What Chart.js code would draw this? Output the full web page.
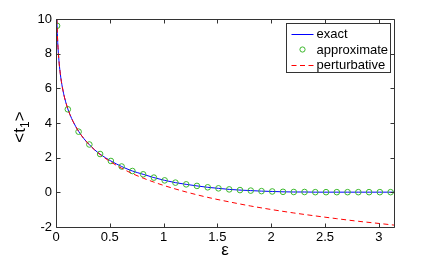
<!DOCTYPE html>
<html><head><meta charset="utf-8">
<script src="https://cdn.jsdelivr.net/npm/chart.js@4/dist/chart.umd.min.js"></script>
<style>html,body{margin:0;padding:0;background:#fff;} #wrap{width:436px;height:262px;position:relative;}</style>
</head><body><div id="wrap"><canvas id="c" width="436" height="262"></canvas></div>
<script>
// ---- data ----
const xTicks = [0, 0.5, 1, 1.5, 2, 2.5, 3];
const yTicks = [-2, 0, 2, 4, 6, 8, 10];
const seriesNames = ['exact', 'approximate', 'perturbative'];
const xLabel = 'ε';
const yLabelParts = ['<t', '1', '>'];

const epsMarkers = [0.01,0.11,0.21,0.31,0.41,0.51,0.61,0.71,0.81,0.91,1.01,1.11,1.21,1.31,1.41,1.51,1.61,1.71,1.81,1.91,2.01,2.11,2.21,2.31,2.41,2.51,2.61,2.71,2.81,2.91,3.01,3.11];
const approxValues = [9.61,4.79,3.50,2.76,2.21,1.81,1.49,1.23,1.04,0.85,0.69,0.56,0.46,0.37,0.29,0.23,0.17,0.13,0.10,0.07,0.05,0.03,0.02,0.02,0.01,0.01,0.01,0.01,0.01,0.01,0.01,0.01];

const epsLine = [0.0082,0.01,0.015,0.02,0.03,0.04,0.05,0.06,0.07,0.08,0.09,0.11,0.13,0.16,0.21,0.26,0.31,0.36,0.41,0.51,0.61,0.71,0.81,0.91,1.01,1.11,1.21,1.31,1.41,1.51,1.61,1.71,1.81,1.91,2.01,2.11,2.21,2.31,2.41,2.51,2.61,2.71,2.81,2.91,3.01,3.1416];
const exactValues = [10.0,9.61,8.80,8.22,7.41,6.84,6.39,6.03,5.72,5.45,5.22,4.81,4.48,4.07,3.52,3.09,2.75,2.45,2.20,1.81,1.49,1.23,1.04,0.85,0.69,0.56,0.46,0.37,0.29,0.23,0.17,0.13,0.10,0.07,0.05,0.03,0.02,0.02,0.01,0.01,0.01,0.01,0.01,0.01,0.01,0.01];

const epsPert = [0.0082,0.01,0.015,0.02,0.03,0.04,0.05,0.06,0.07,0.08,0.09,0.11,0.13,0.16,0.21,0.26,0.31,0.36,0.41,0.51,0.61,0.71,0.81,0.91,1.01,1.21,1.41,1.61,1.81,2.01,2.21,2.41,2.61,2.81,3.01,3.1416];
const pertValues = [10.0,9.61,8.80,8.22,7.41,6.84,6.39,6.03,5.72,5.45,5.22,4.81,4.48,4.07,3.52,3.09,2.74,2.44,2.18,1.75,1.39,1.08,0.82,0.59,0.38,0.02,-0.29,-0.55,-0.79,-1.00,-1.19,-1.36,-1.52,-1.67,-1.80,-1.89];

// ---- styles ----
const FONT = '"Liberation Sans", Arial, Helvetica, sans-serif';
const BLUE = '#0000ff', GREEN = '#3cb82c', RED = '#ff0000', AXIS = '#333333';

const toXY = (xs, ys) => xs.map((x, i) => ({x: x, y: ys[i]}));

const framePlugin = {
  id: 'frame',
  afterDraw(chart) {
    const ctx = chart.ctx, a = chart.chartArea;
    const xs = chart.scales.x, ys = chart.scales.y;
    ctx.save();
    ctx.strokeStyle = AXIS; ctx.lineWidth = 1;
    const L = Math.round(a.left) + 0.5, R = Math.round(a.right) + 0.5;
    const T = Math.round(a.top) + 0.5, B = Math.round(a.bottom) + 0.5;
    ctx.beginPath();
    ctx.rect(L, T, R - L, B - T);
    const tl = 4;
    xTicks.forEach(v => {
      const p = Math.round(xs.getPixelForValue(v)) + 0.5;
      ctx.moveTo(p, B); ctx.lineTo(p, B - tl);
      ctx.moveTo(p, T); ctx.lineTo(p, T + tl);
    });
    yTicks.forEach(v => {
      const p = Math.round(ys.getPixelForValue(v)) + 0.5;
      ctx.moveTo(L, p); ctx.lineTo(L + tl, p);
      ctx.moveTo(R, p); ctx.lineTo(R - tl, p);
    });
    ctx.stroke();

    // x label
    ctx.fillStyle = '#000';
    ctx.font = '17px ' + FONT;
    ctx.textAlign = 'center'; ctx.textBaseline = 'middle';
    ctx.fillText(xLabel, (a.left + a.right) / 2, 250);

    // y label (rotated, with subscript)
    ctx.save();
    ctx.translate(19, (a.top + a.bottom) / 2 + 4);
    ctx.rotate(-Math.PI / 2);
    const big = '17px ' + FONT, small = '12px ' + FONT;
    ctx.font = big; const w0 = ctx.measureText(yLabelParts[0]).width;
    const w2 = ctx.measureText(yLabelParts[2]).width;
    ctx.font = small; const w1 = ctx.measureText(yLabelParts[1]).width;
    let x0 = -(w0 + w1 + w2) / 2;
    ctx.textAlign = 'left'; ctx.textBaseline = 'alphabetic';
    ctx.font = big; ctx.fillText(yLabelParts[0], x0, 6);
    ctx.font = small; ctx.fillText(yLabelParts[1], x0 + w0, 10);
    ctx.font = big; ctx.fillText(yLabelParts[2], x0 + w0 + w1, 6);
    ctx.restore();

    // legend box
    const bx = Math.round(a.right) - 108 + 0.5, by = Math.round(a.top) + 4 + 0.5, bw = 104, bh = 49;
    ctx.fillStyle = '#fff';
    ctx.fillRect(bx, by, bw, bh);
    ctx.strokeStyle = AXIS; ctx.lineWidth = 1;
    ctx.strokeRect(bx, by, bw, bh);
    ctx.font = '13px ' + FONT; ctx.textBaseline = 'middle'; ctx.textAlign = 'left';
    const rows = [by + 10, by + 26, by + 41];
    const sx0 = bx + 5, sx1 = bx + 27;
    // exact
    ctx.strokeStyle = BLUE; ctx.beginPath(); ctx.moveTo(sx0, Math.round(rows[0]) + 0.5); ctx.lineTo(sx1, Math.round(rows[0]) + 0.5); ctx.stroke();
    // approximate
    ctx.strokeStyle = GREEN; ctx.beginPath(); ctx.arc((sx0 + sx1) / 2, rows[1], 2.6, 0, Math.PI * 2); ctx.stroke();
    // perturbative
    ctx.strokeStyle = RED; ctx.setLineDash([5, 3.5]); ctx.beginPath(); ctx.moveTo(sx0, Math.round(rows[2]) + 0.5); ctx.lineTo(sx1 + 1, Math.round(rows[2]) + 0.5); ctx.stroke();
    ctx.setLineDash([]);
    ctx.fillStyle = '#000';
    seriesNames.forEach((n, i) => ctx.fillText(n, bx + 30, rows[i] + 0.5));
    ctx.restore();
  }
};

new Chart(document.getElementById('c'), {
  type: 'scatter',
  data: {
    datasets: [
      { label: seriesNames[0], data: toXY(epsLine, exactValues), showLine: true, borderColor: BLUE, borderWidth: 1,
        pointRadius: 0, tension: 0.3, cubicInterpolationMode: 'monotone', order: 3 },
      { label: seriesNames[1], data: toXY(epsMarkers, approxValues), showLine: false, borderColor: GREEN, backgroundColor: 'rgba(0,0,0,0)',
        pointRadius: 2.8, pointBorderWidth: 1, pointStyle: 'circle', order: 2 },
      { label: seriesNames[2], data: toXY(epsPert, pertValues), showLine: true, borderColor: RED, borderWidth: 1, borderDash: [5, 3.5],
        pointRadius: 0, cubicInterpolationMode: 'monotone', order: 1 }
    ]
  },
  options: {
    responsive: false, animation: false, devicePixelRatio: 1,
    layout: { padding: { top: 19, right: 42, left: 0, bottom: 0 } },
    plugins: { legend: { display: false }, tooltip: { enabled: false } },
    scales: {
      x: {
        type: 'linear', min: 0, max: Math.PI,
        afterBuildTicks: s => { s.ticks = xTicks.map(v => ({ value: v })); },
        afterFit: s => { s.height = 35; },
        grid: { display: false, drawTicks: false }, border: { display: false },
        ticks: { color: '#000', font: { family: FONT, size: 13 }, padding: 3, maxRotation: 0, autoSkip: false,
          callback: v => String(v) }
      },
      y: {
        type: 'linear', min: -2, max: 10,
        afterBuildTicks: s => { s.ticks = yTicks.map(v => ({ value: v })); },
        afterFit: s => { s.width = 56; },
        grid: { display: false, drawTicks: false }, border: { display: false },
        ticks: { color: '#000', font: { family: FONT, size: 13 }, padding: 4, autoSkip: false,
          callback: v => String(v) }
      }
    }
  },
  plugins: [framePlugin]
});
</script>
</body></html>
